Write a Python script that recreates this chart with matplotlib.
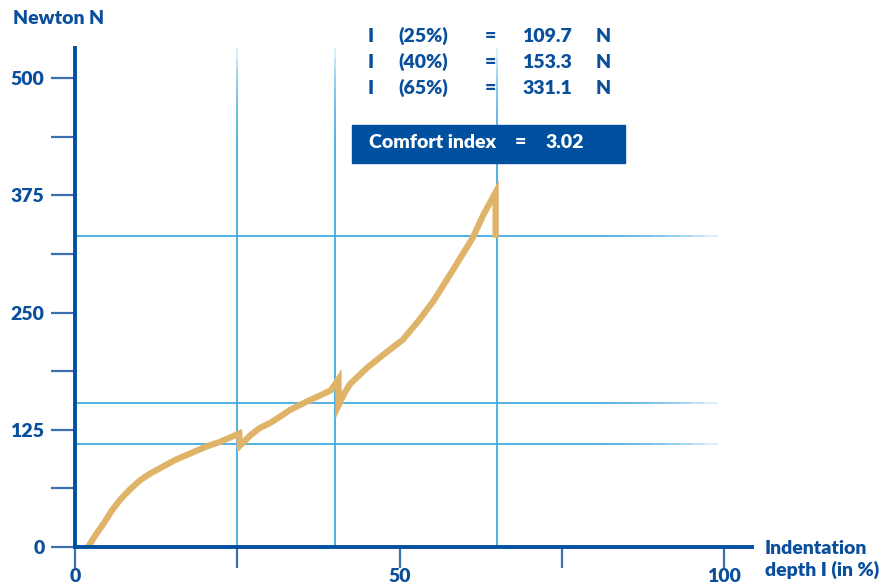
import numpy as np
import matplotlib.pyplot as plt
from matplotlib.patches import Rectangle

# --- DATA ---
depth = [2.0, 3.2, 4.4, 5.6, 6.9, 8.4, 10.0, 11.5, 13.1, 15.5, 18.2, 20.2, 22.3, 25.3,
         25.4, 27.0, 28.5, 30.0, 31.6, 33.1, 35.7, 38.2, 39.4, 40.6,
         40.6, 41.5, 42.4, 45.0, 47.5, 50.5, 52.8, 55.2, 58.2, 61.3,
         62.9, 64.8, 64.8]
force = [0, 13, 25, 38, 50, 61, 71, 78, 84, 93, 101, 107, 112, 121,
         108, 119, 127, 132, 139, 146, 155, 163, 167, 179,
         151, 164, 174, 191, 205, 221, 240, 262, 295, 330,
         354, 378, 333]

ref_depth = [25, 40, 65]
ref_force = [109.7, 153.3, 331.1]
ref_labels = ["25%", "40%", "65%"]
comfort_index = 3.02

x_major = [0, 50, 100]
x_minor = [25, 75]
y_major = [0, 125, 250, 375, 500]
y_minor = [62.5, 187.5, 312.5, 437.5]

# --- STYLE ---
DARK = "#0a4f9c"
AXIS = "#0050a0"
GRID = "#3fa9e0"
CURVE = "#e0b468"
plt.rcParams['font.family'] = ['Lato', 'DejaVu Sans']
WEIGHT = 'heavy'

W, H = 890, 587
fig = plt.figure(figsize=(W / 100, H / 100), dpi=100)
ax = fig.add_axes([75 / W, 40 / H, 677 / W, 499 / H])
ax.set_xlim(0, 104.3)
ax.set_ylim(0, 532)

for s in ["top", "right"]:
    ax.spines[s].set_visible(False)
for s in ["left", "bottom"]:
    ax.spines[s].set_color(AXIS)
    ax.spines[s].set_linewidth(2.8)
    ax.spines[s].set_zorder(4)


def fading_line(x0, y0, x1, y1, start=0.82, k=10):
    # stack of overlapping lines of decreasing length -> far end fades out
    for t in np.linspace(start, 1, k):
        ax.plot([x0, x0 + (x1 - x0) * t], [y0, y0 + (y1 - y0) * t],
                color=GRID, alpha=0.2, lw=1.3, solid_capstyle='butt', zorder=1)


for xv in ref_depth:
    fading_line(xv, 0, xv, 532)
for yv in ref_force:
    fading_line(0, yv, 99, yv)

ax.plot(depth, force, color=CURVE, lw=4.5, solid_joinstyle='miter', zorder=3)

ax.set_xticks(x_major)
ax.set_xticks(x_minor, minor=True)
ax.set_yticks(y_major)
ax.set_yticks(y_minor, minor=True)
ax.tick_params(which='both', direction='out', length=17, width=1.6, color="#3d6fb0",
               labelsize=14, labelcolor=DARK)
ax.tick_params(axis='x', which='both', length=15, pad=0)
ax.tick_params(axis='y', which='both', pad=5)
for lab in ax.get_xticklabels() + ax.get_yticklabels():
    lab.set_fontweight(WEIGHT)


def ftext(x, y, s, **kw):
    fig.text(x / W, 1 - y / H, s, color=kw.pop('color', DARK), fontsize=kw.pop('fontsize', 14),
             fontweight=WEIGHT, va='center', **kw)


ftext(13, 19, "Newton N")
ftext(765, 548, "Indentation")
ftext(765, 570, "depth I (in %)")

rows_y = [36, 62, 88]
for ry, lab, val in zip(rows_y, ref_labels, ref_force):
    ftext(368, ry, "I")
    ftext(398, ry, f"({lab})")
    ftext(485, ry, "=")
    ftext(522, ry, f"{val:.1f}")
    ftext(596, ry, "N")

fig.patches.append(Rectangle((352 / W, 1 - 163 / H), 273 / W, 38 / H,
                             transform=fig.transFigure, color=AXIS, zorder=5))
ftext(369, 143, "Comfort index", color="white", zorder=6)
ftext(515, 143, "=", color="white", zorder=6)
ftext(545, 143, f"{comfort_index:.2f}", color="white", zorder=6)

fig.savefig("out.png", dpi=100)
